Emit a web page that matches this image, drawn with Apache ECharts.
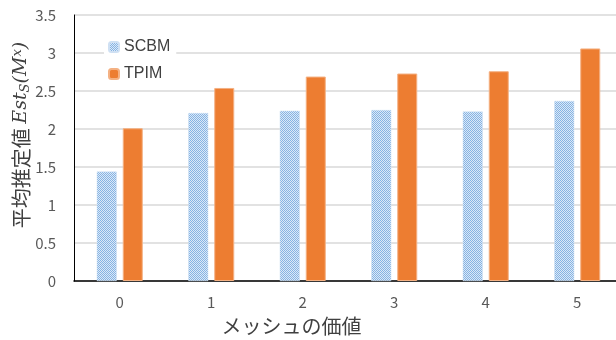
<!DOCTYPE html>
<html>
<head>
<meta charset="utf-8">
<script src="https://cdn.jsdelivr.net/npm/echarts@6/dist/echarts.min.js"></script>
<style>
html,body{margin:0;padding:0;background:#fff;}
#chart{width:616px;height:340px;}
</style>
</head>
<body>
<div id="chart"></div>
<script>
const categories = ['0', '1', '2', '3', '4', '5'];
const scbm = [1.44, 2.21, 2.24, 2.25, 2.23, 2.37];
const tpim = [2.01, 2.54, 2.69, 2.73, 2.76, 3.06];
const yTicks = { min: 0, max: 3.5, interval: 0.5 };

// small zigzag tile used to fill the SCBM bars
function zigzagTile() {
  const c = document.createElement('canvas');
  c.width = 4; c.height = 4;
  const g = c.getContext('2d');
  g.fillStyle = '#dbe9f7';
  g.fillRect(0, 0, 4, 4);
  g.fillStyle = '#86b3e3';
  const px = [[0,0],[1,1],[2,0],[3,1],[0,2],[1,3],[2,2],[3,3]];
  px.forEach(p => g.fillRect(p[0], p[1], 1, 1));
  return c;
}

const chart = echarts.init(document.getElementById('chart'));
const font = '"Noto Sans CJK JP", "Noto Sans", sans-serif';
chart.setOption({
  animation: false,
  textStyle: { fontFamily: font },
  grid: { left: 74, right: -7, top: 15, bottom: 59, containLabel: false, outerBoundsMode: 'none' },
  legend: {
    orient: 'vertical',
    left: 104, top: 37,
    itemWidth: 10, itemHeight: 10, itemGap: 11,
    backgroundColor: '#fff',
    padding: [2, 6, 2, 4],
    textStyle: { fontSize: 16, color: '#404040', fontFamily: '"Liberation Sans", Arial, sans-serif' },
    data: ['SCBM', 'TPIM']
  },
  xAxis: {
    type: 'category',
    data: categories,
    axisLine: { lineStyle: { color: '#000', width: 1.5 } },
    axisTick: { show: false },
    axisLabel: { color: '#595959', fontSize: 15, margin: 14 },
    name: 'メッシュの価値',
    nameLocation: 'middle',
    nameGap: 35,
    nameMoveOverlap: false,
    nameTextStyle: { fontSize: 20, color: '#404040', padding: [0, 114, 0, 0] }
  },
  yAxis: {
    type: 'value',
    min: yTicks.min, max: yTicks.max, interval: yTicks.interval,
    axisLine: { show: true, lineStyle: { color: '#000', width: 1 } },
    axisTick: { show: false },
    splitLine: { lineStyle: { color: '#d9d9d9', width: 1.5 } },
    axisLabel: { color: '#595959', fontSize: 15, margin: 18 },
    name: '{t|平均推定値 }{i|Est}{sub|S}{i|(M}{sup|x}{i|)}',
    nameLocation: 'middle',
    nameGap: 42,
    nameMoveOverlap: false,
    nameRotate: 90,
    nameTextStyle: {
      padding: [0, 0, 0, 26],
      rich: {
        t: { fontSize: 20, color: '#404040', fontFamily: font },
        i: { fontSize: 19, color: '#404040', fontStyle: 'italic', fontFamily: '"DejaVu Serif", serif' },
        sub: { fontSize: 13, color: '#404040', fontStyle: 'italic', fontFamily: '"DejaVu Serif", serif', verticalAlign: 'bottom', padding: [8, 0, 0, 0] },
        sup: { fontSize: 13, color: '#404040', fontStyle: 'italic', fontFamily: '"DejaVu Serif", serif', verticalAlign: 'top', padding: [0, 0, 8, 0] }
      }
    }
  },
  series: [
    {
      name: 'SCBM', type: 'bar', data: scbm,
      barWidth: 20, barGap: '30%',
      itemStyle: { color: { image: zigzagTile(), repeat: 'repeat' }, borderColor: '#cfe0f3', borderWidth: 0.5 }
    },
    {
      name: 'TPIM', type: 'bar', data: tpim,
      barWidth: 20,
      itemStyle: { color: '#ed7d31', borderColor: '#f4b183', borderWidth: 1 }
    }
  ]
});
</script>
</body>
</html>
